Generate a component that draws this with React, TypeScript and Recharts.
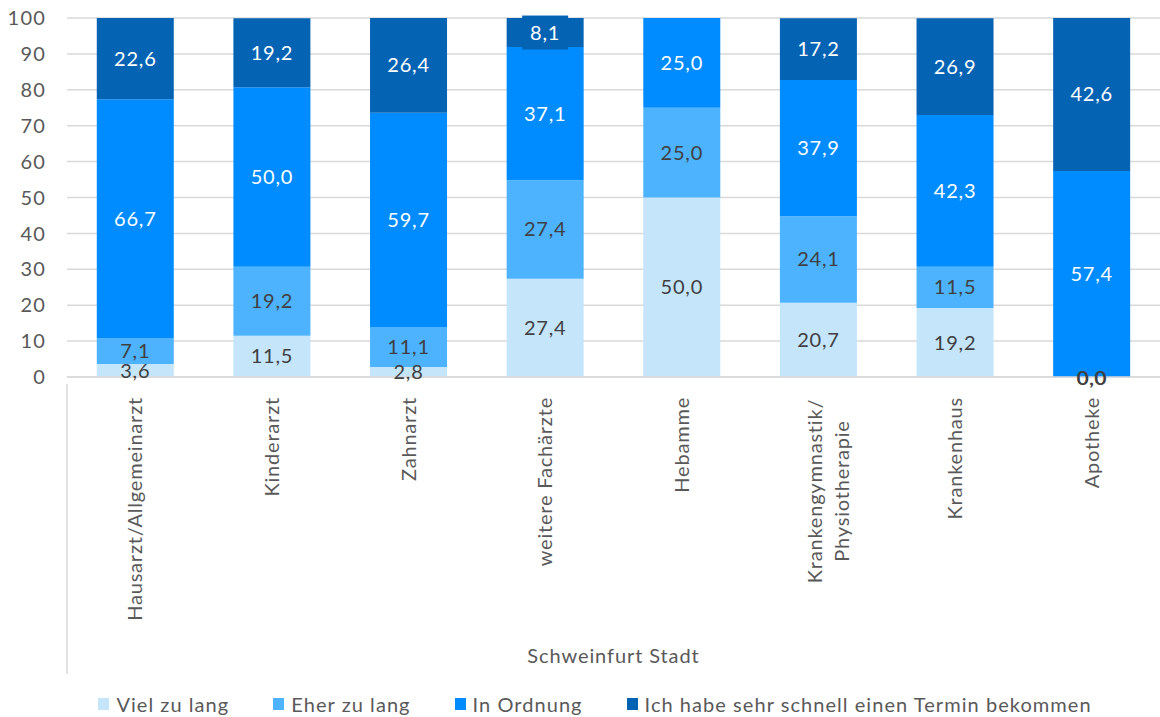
import React from 'react';
import { BarChart, Bar, XAxis, YAxis, CartesianGrid, Legend, LabelList } from 'recharts';

const categories = [
  'Hausarzt/Allgemeinarzt',
  'Kinderarzt',
  'Zahnarzt',
  'weitere Fachärzte',
  'Hebamme',
  'Krankengymnastik/\nPhysiotherapie',
  'Krankenhaus',
  'Apotheke',
];
const vielZuLang = [3.6, 11.5, 2.8, 27.4, 50.0, 20.7, 19.2, 0.0];
const eherZuLang = [7.1, 19.2, 11.1, 27.4, 25.0, 24.1, 11.5, 0.0];
const inOrdnung = [66.7, 50.0, 59.7, 37.1, 25.0, 37.9, 42.3, 57.4];
const schnell: (number | null)[] = [22.6, 19.2, 26.4, 8.1, null, 17.2, 26.9, 42.6];
const yTicks = [0, 10, 20, 30, 40, 50, 60, 70, 80, 90, 100];
const groupLabel = 'Schweinfurt Stadt';

const seriesNames = ['Viel zu lang', 'Eher zu lang', 'In Ordnung', 'Ich habe sehr schnell einen Termin bekommen'];
const colors = ['#c5e5fb', '#4db3ff', '#008cff', '#0563b4'];
const labelColors = ['#404040', '#404040', '#ffffff', '#ffffff'];

const data = categories.map((c, i) => ({
  name: c,
  s0: vielZuLang[i],
  s1: eherZuLang[i],
  s2: inOrdnung[i],
  s3: schnell[i],
}));

const FONT = 'Lato, "Open Sans", sans-serif';
const W = 1160;
const H = 717;
const YW = 67;
const BAND_HALF = (W - YW) / categories.length / 2;

const fmt = (v: any) => (v === null || v === undefined ? '' : Number(v).toFixed(1).replace('.', ','));

const LabelText = ({ x, y, color, txt }: any) => (
  <text
    x={x}
    y={y}
    dy="0.35em"
    textAnchor="middle"
    fill={color}
    fontSize={20}
    letterSpacing={0.8}
    fontFamily={FONT}
  >
    {txt}
  </text>
);

const makeLabel = (idx: number) => (props: any) => {
  const { x, y, width, height, value, index } = props;
  if (value === null || value === undefined) return null;
  if (idx < 2 && Number(value) === 0) return null;
  const cx = x + width / 2;
  const cy = y + height / 2;
  const txt = fmt(value);
  const extras: React.ReactNode[] = [];
  if (idx === 2) {
    const row = data[index];
    const bottom = y + height;
    if (row && row.s0 === 0) extras.push(<LabelText key="z0" x={cx} y={bottom + 1} color={labelColors[0]} txt={fmt(0)} />);
    if (row && row.s1 === 0) extras.push(<LabelText key="z1" x={cx + 0.6} y={bottom + 1} color={labelColors[1]} txt={fmt(0)} />);
  }
  return (
    <g>
      {idx === 3 && <rect x={cx - 23} y={cy - 17} width={46} height={34} fill={colors[idx]} />}
      <LabelText x={cx} y={cy} color={labelColors[idx]} txt={txt} />
      {extras}
    </g>
  );
};

const CatTick = (props: any) => {
  const { x, y, payload, index } = props;
  const lines: string[] = String(payload.value).split('\n');
  const top = y + 12;
  return (
    <g>
      {index === 0 && (
        <line x1={x - BAND_HALF} x2={x - BAND_HALF} y1={y - 1} y2={y + 289} stroke="#d9d9d9" strokeWidth={1.5} />
      )}
      <g transform={`translate(${x}, ${top}) rotate(-90)`}>
        {lines.length === 1 ? (
          <text x={0} y={0} dy="0.35em" textAnchor="end" fill="#595959" fontSize={20} letterSpacing={0.8} fontFamily={FONT}>
            {lines[0]}
          </text>
        ) : (
          lines.map((l, i) => (
            <text
              key={i}
              x={-94}
              y={i * 27 - 3}
              dy="0.35em"
              textAnchor="middle"
              fill="#595959"
              fontSize={20}
              letterSpacing={0.8}
              fontFamily={FONT}
            >
              {l}
            </text>
          ))
        )}
      </g>
    </g>
  );
};

const LegendContent = () => (
  <div
    style={{
      display: 'flex',
      justifyContent: 'center',
      alignItems: 'center',
      fontFamily: FONT,
      fontSize: 20,
      letterSpacing: 1.05,
      color: '#595959',
      paddingTop: 15,
      paddingLeft: 30,
    }}
  >
    {seriesNames.map((n, i) => (
      <div key={n} style={{ display: 'flex', alignItems: 'center', marginRight: i < 3 ? 44 : 0 }}>
        <span style={{ display: 'inline-block', width: 11, height: 12, background: colors[i], marginRight: 7 }} />
        <span>{n}</span>
      </div>
    ))}
  </div>
);

export default function App() {
  return (
    <div style={{ position: 'absolute', left: 0, top: 0, width: W, height: H, background: '#fff' }}>
      <BarChart
        width={W}
        height={H}
        data={data}
        margin={{ top: 18, right: 0, bottom: 0, left: 0 }}
        barCategoryGap="21.8%"
      >
        <CartesianGrid vertical={false} stroke="#d9d9d9" strokeWidth={1.5} />
        <YAxis
          domain={[0, 100]}
          ticks={yTicks}
          width={YW}
          axisLine={false}
          tickLine={false}
          tickSize={0}
          tickMargin={21}
          tick={{ fill: '#595959', fontSize: 20, fontFamily: FONT, letterSpacing: 1.2 }}
          interval={0}
        />
        <XAxis
          dataKey="name"
          height={300}
          axisLine={{ stroke: '#d9d9d9', strokeWidth: 1.5 }}
          tickLine={false}
          tick={<CatTick />}
          interval={0}
          label={{
            value: groupLabel,
            position: 'insideBottom',
            offset: 14,
            fill: '#595959',
            fontSize: 20,
            letterSpacing: 0.9,
            fontFamily: FONT,
          }}
        />
        <Legend verticalAlign="bottom" height={40} content={<LegendContent />} />
        {['s0', 's1', 's2', 's3'].map((k, i) => (
          <Bar key={k} dataKey={k} stackId="a" fill={colors[i]} isAnimationActive={false} name={seriesNames[i]}>
            <LabelList dataKey={k} content={makeLabel(i)} />
          </Bar>
        ))}
      </BarChart>
    </div>
  );
}
